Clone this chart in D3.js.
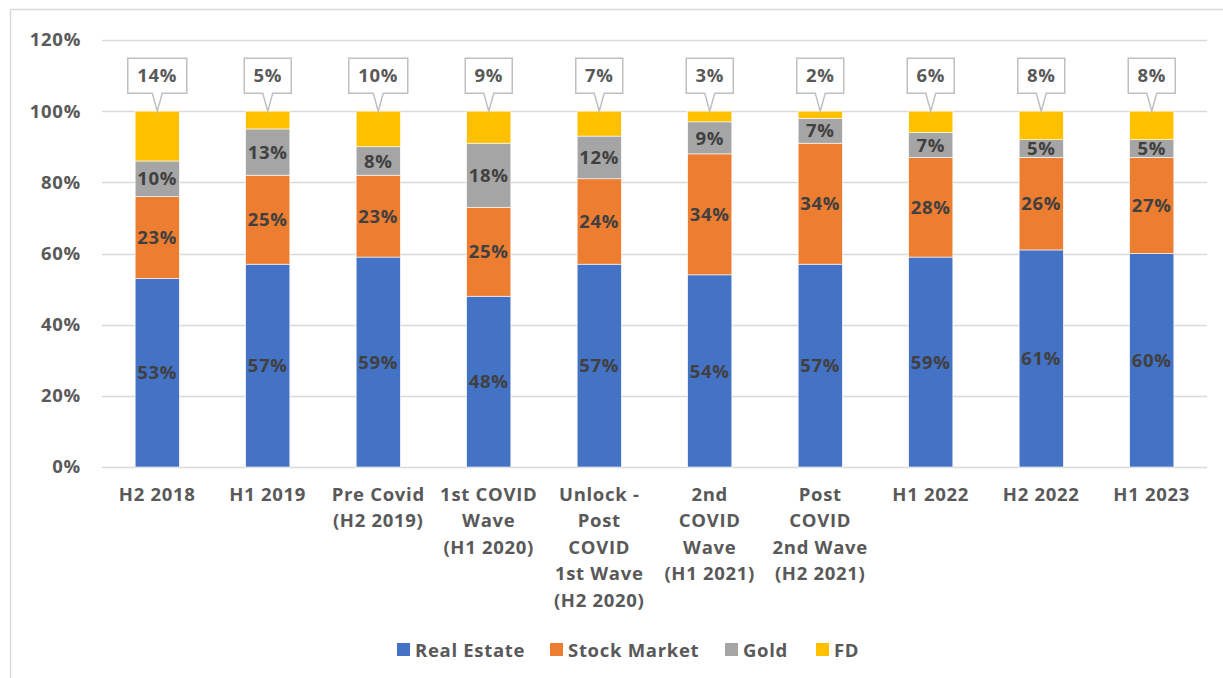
<!DOCTYPE html>
<html>
<head>
<meta charset="utf-8">
<script src="https://cdn.jsdelivr.net/npm/d3@7"></script>
<style>
  body { margin: 0; background: #fff; }
  svg { font-family: "Open Sans", "Lato", sans-serif; font-weight: 700; letter-spacing: 0.7px; }
</style>
</head>
<body>
<svg width="1223" height="678"></svg>
<script>
// categories (line breaks as in the original axis)
const categories = [
  "H2 2018", "H1 2019", "Pre Covid\n(H2 2019)", "1st COVID\nWave\n(H1 2020)",
  "Unlock -\nPost\nCOVID\n1st Wave\n(H2 2020)", "2nd\nCOVID\nWave\n(H1 2021)",
  "Post\nCOVID\n2nd Wave\n(H2 2021)", "H1 2022", "H2 2022", "H1 2023"
];
const seriesNames = ["Real Estate", "Stock Market", "Gold", "FD"];
const realEstate  = [53, 57, 59, 48, 57, 54, 57, 59, 61, 60];
const stockMarket = [23, 25, 23, 25, 24, 34, 34, 28, 26, 27];
const gold        = [10, 13, 8, 18, 12, 9, 7, 7, 5, 5];
const fd          = [14, 5, 10, 9, 7, 3, 2, 6, 8, 8];
const yTicks = [0, 20, 40, 60, 80, 100, 120];

const colors = ["#4472C4", "#ED7D31", "#A5A5A5", "#FFC000"];

const rows = categories.map((c, i) => ({
  cat: c,
  "Real Estate": realEstate[i],
  "Stock Market": stockMarket[i],
  "Gold": gold[i],
  "FD": fd[i]
}));

const svg = d3.select("svg");
const fontSize = "18.5px";

// outer chart border
svg.append("rect")
  .attr("x", 10.5).attr("y", 9.5)
  .attr("width", 1230).attr("height", 700)
  .attr("fill", "none")
  .attr("stroke", "#D9D9D9")
  .attr("stroke-width", 1.5);

const margin = { top: 40, left: 102 };
const plotW = 1207 - margin.left;
const plotBottom = 467;

const x = d3.scaleBand()
  .domain(categories)
  .range([margin.left, margin.left + plotW])
  .paddingInner(0.6)
  .paddingOuter(0.3);

const y = d3.scaleLinear()
  .domain([0, 120])
  .range([plotBottom, margin.top]);

// gridlines
svg.append("g")
  .selectAll("line")
  .data(yTicks)
  .join("line")
  .attr("x1", margin.left).attr("x2", margin.left + plotW)
  .attr("y1", d => Math.round(y(d)) + 0.5)
  .attr("y2", d => Math.round(y(d)) + 0.5)
  .attr("stroke", "#D9D9D9")
  .attr("stroke-width", 1.5);

// y axis labels
const yAxis = svg.append("g")
  .attr("transform", `translate(${margin.left},0)`)
  .call(d3.axisLeft(y).tickValues(yTicks).tickFormat(d => d + "%").tickSize(0).tickPadding(21));
yAxis.select(".domain").remove();
yAxis.selectAll("text")
  .attr("fill", "#595959")
  .style("font-size", fontSize)
  .style("font-family", "'Open Sans', sans-serif")
  .style("font-weight", 700);

// stacked bars
const stack = d3.stack().keys(seriesNames);
const stacked = stack(rows);

const layers = svg.append("g")
  .selectAll("g")
  .data(stacked)
  .join("g")
  .attr("fill", (d, i) => colors[i]);

layers.selectAll("rect")
  .data(d => d)
  .join("rect")
  .attr("x", d => x(d.data.cat))
  .attr("y", d => y(d[1]))
  .attr("width", x.bandwidth())
  .attr("height", d => y(d[0]) - y(d[1]))
  .attr("stroke", "#fff")
  .attr("stroke-width", 0.6);

// labels inside bars (all but FD)
stacked.slice(0, 3).forEach(layer => {
  svg.append("g")
    .selectAll("text")
    .data(layer)
    .join("text")
    .attr("x", d => x(d.data.cat) + x.bandwidth() / 2)
    .attr("y", d => (y(d[0]) + y(d[1])) / 2)
    .attr("dy", "0.36em")
    .attr("text-anchor", "middle")
    .attr("fill", "#404040")
    .style("font-size", fontSize)
    .text(d => (d[1] - d[0]) + "%");
});

// FD callouts above bars
const callouts = svg.append("g");
stacked[3].forEach(d => {
  const cx = x(d.data.cat) + x.bandwidth() / 2;
  const tipY = y(d[1]);
  const label = (d[1] - d[0]) + "%";
  const boxW = label.length > 2 ? 59 : 47;
  const boxH = 35;
  const boxBottom = tipY - 18;
  const left = cx - boxW / 2;
  const top = boxBottom - boxH;
  const path = [
    [left, top], [left + boxW, top], [left + boxW, boxBottom],
    [cx + 5, boxBottom], [cx, tipY], [cx - 5, boxBottom],
    [left, boxBottom]
  ];
  callouts.append("path")
    .attr("d", d3.line()(path) + "Z")
    .attr("fill", "#fff")
    .attr("stroke", "#BFBFBF")
    .attr("stroke-width", 1.5);
  callouts.append("text")
    .attr("x", cx)
    .attr("y", top + boxH / 2)
    .attr("dy", "0.36em")
    .attr("text-anchor", "middle")
    .attr("fill", "#595959")
    .style("font-size", fontSize)
    .text(label);
});

// category labels
const catG = svg.append("g");
categories.forEach(c => {
  const t = catG.append("text")
    .attr("x", x(c) + x.bandwidth() / 2)
    .attr("y", 494)
    .attr("text-anchor", "middle")
    .attr("fill", "#595959")
    .style("font-size", fontSize);
  c.split("\n").forEach((line, i) => {
    t.append("tspan")
      .attr("x", x(c) + x.bandwidth() / 2)
      .attr("dy", i === 0 ? "0.36em" : "26.5px")
      .text(line);
  });
});

// legend
const legendX = [397, 550, 725, 816];
const legend = svg.append("g");
seriesNames.forEach((name, i) => {
  legend.append("rect")
    .attr("x", legendX[i]).attr("y", 643)
    .attr("width", 13).attr("height", 13)
    .attr("fill", colors[i]);
  legend.append("text")
    .attr("x", legendX[i] + 18)
    .attr("y", 650)
    .attr("dy", "0.36em")
    .attr("fill", "#595959")
    .style("font-size", fontSize)
    .text(name);
});
</script>
</body>
</html>
